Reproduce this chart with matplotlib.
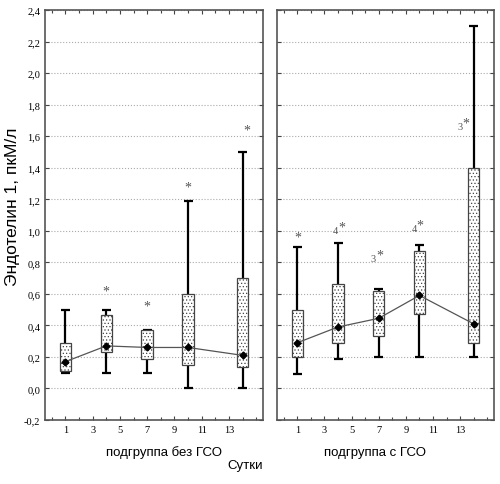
import matplotlib as mpl
mpl.rcParams["font.family"] = "Liberation Sans"
import numpy as np
import matplotlib.pyplot as plt
from matplotlib.ticker import MultipleLocator, FuncFormatter

days = [1, 4, 7, 10, 14]

# подгруппа без ГСО
a_min = [0.10, 0.10, 0.10, 0.00, 0.00]
a_q1 = [0.11, 0.23, 0.19, 0.15, 0.135]
a_q3 = [0.29, 0.465, 0.37, 0.60, 0.70]
a_max = [0.50, 0.50, 0.37, 1.19, 1.50]
a_med = [0.17, 0.27, 0.26, 0.26, 0.21]
a_marks = ["", "*", "*", "*", "*"]
a_mark_x = [1, 4, 7, 10, 14.3]
a_mark_y = [0, 0.62, 0.52, 1.28, 1.64]

# подгруппа с ГСО
b_min = [0.09, 0.19, 0.20, 0.20, 0.20]
b_q1 = [0.20, 0.29, 0.335, 0.47, 0.29]
b_q3 = [0.50, 0.66, 0.62, 0.875, 1.40]
b_max = [0.90, 0.92, 0.63, 0.91, 2.30]
b_med = [0.29, 0.39, 0.445, 0.59, 0.41]
b_marks = ["*", "4", "3", "4", "3"]
b_mark_x = [1, 4, 6.8, 9.8, 13.2]
b_mark_y = [0.96, 1.02, 0.84, 1.03, 1.68]

mpl.rcParams["hatch.color"] = "#a0a0a0"
mpl.rcParams["hatch.linewidth"] = 0.5

fig = plt.figure(figsize=(5, 4.85), dpi=100)
ax1 = fig.add_axes([0.09, 0.132, 0.436, 0.845])
ax2 = fig.add_axes([0.554, 0.132, 0.434, 0.845])


def draw(ax, mn, q1, q3, mx, med, marks, mx_x, mk_y, labels=True):
    d = np.array(days)
    ax.vlines(d, mn, q1, color="black", lw=1.6, zorder=3)
    ax.vlines(d, q3, mx, color="black", lw=1.6, zorder=3)
    ax.hlines(mn, d - 0.33, d + 0.33, color="black", lw=1.6, zorder=3)
    ax.hlines(mx, d - 0.33, d + 0.33, color="black", lw=1.6, zorder=3)
    h = np.array(q3) - np.array(q1)
    ax.bar(d, h, bottom=q1, width=0.85, color="white", edgecolor="#444444",
           hatch=".....", lw=0.9, zorder=4)
    ax.plot(d, med, color="#555555", lw=0.9, marker="D", ms=3.5,
            mfc="black", mec="black", zorder=5)
    for x, y, s in zip(mx_x, mk_y, marks):
        if s == "*":
            ax.text(x, y, s, family="Liberation Serif", fontsize=10,
                    color="#555555", ha="center", va="center", zorder=6)
        elif s:
            # small digit followed by a raised star
            ax.annotate(s, (x, y), xytext=(-2, -2), textcoords="offset points",
                        family="Liberation Serif", fontsize=7.5, color="#555555",
                        ha="center", va="center", zorder=6)
            ax.annotate("*", (x, y), xytext=(2.5, 0.5), textcoords="offset points",
                        family="Liberation Serif", fontsize=10, color="#555555",
                        ha="center", va="center", zorder=6)

    ax.set_xlim(-0.5, 15.5)
    ax.set_ylim(-0.2, 2.4)
    ax.set_xticks([1, 3, 5, 7, 9, 11, 13])
    ax.xaxis.set_minor_locator(MultipleLocator(1))
    ax.yaxis.set_major_locator(MultipleLocator(0.2))
    ax.yaxis.set_major_formatter(FuncFormatter(lambda v, p: ("%.1f" % v).replace(".", ",")))
    ax.grid(axis="y", ls=":", color="#aaaaaa", lw=0.8)
    ax.set_axisbelow(True)
    ax.tick_params(which="both", direction="in", top=True, right=True,
                   color="#444444", labelsize=7.5, width=0.8)
    ax.tick_params(which="major", length=3)
    ax.tick_params(which="minor", length=2)
    for lab in ax.get_xticklabels() + ax.get_yticklabels():
        lab.set_family("Liberation Serif")
    if not labels:
        ax.tick_params(labelleft=False)
    for sp in ax.spines.values():
        sp.set_color("#555555")
        sp.set_linewidth(1.2)


draw(ax1, a_min, a_q1, a_q3, a_max, a_med, a_marks, a_mark_x, a_mark_y)
draw(ax2, b_min, b_q1, b_q3, b_max, b_med, b_marks, b_mark_x, b_mark_y, labels=False)

fig.text(0.327, 0.066, "подгруппа без ГСО", fontsize=9.5, ha="center", va="center")
fig.text(0.75, 0.066, "подгруппа с ГСО", fontsize=9.5, ha="center", va="center")
fig.text(0.49, 0.039, "Сутки", fontsize=9.5, ha="center", va="center")
fig.text(0.025, 0.573, "Эндотелин 1, пкМ/л", fontsize=12.5, rotation=90,
         ha="center", va="center")

fig.savefig("out.png", dpi=100)
